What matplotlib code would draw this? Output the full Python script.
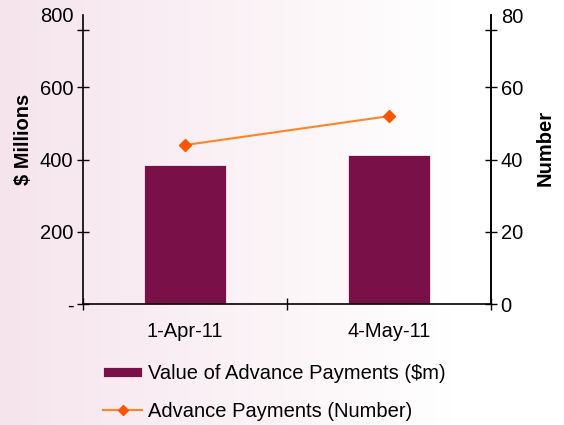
import numpy as np
import matplotlib
matplotlib.use('Agg')
import matplotlib.pyplot as plt
from matplotlib.lines import Line2D
from matplotlib.patches import Patch

# data
dates = ['1-Apr-11', '4-May-11']
value_m = [386, 413]          # Value of Advance Payments ($m)
number = [44, 52]             # Advance Payments (Number)

bar_color = '#7a1048'
line_color = '#ff8426'
marker_color = '#ff5500'

plt.rcParams['font.family'] = ['Liberation Sans', 'DejaVu Sans']
plt.rcParams['font.size'] = 14.5

fig = plt.figure(figsize=(5.64, 4.25), dpi=100)

# pink-to-white background gradient
bg = fig.add_axes([0, 0, 1, 1], zorder=-10)
grad = np.linspace(0, 1, 256)
left = np.array([246, 228, 236]) / 255.0
right = np.array([255, 255, 255]) / 255.0
t = np.clip(grad / 0.8, 0, 1)[:, None]
img = (left * (1 - t) + right * t)[None, :, :]
bg.imshow(img, aspect='auto', extent=[0, 1, 0, 1])
bg.axis('off')

ax = fig.add_axes([83 / 564, 1 - 304 / 425, (491 - 83) / 564, (304 - 15) / 425])
ax.set_facecolor('none')
x = np.arange(len(dates))
ax.bar(x, value_m, width=0.4, color=bar_color, edgecolor='white', linewidth=0.5, zorder=2)
ax.set_xlim(-0.5, 1.5)
ax.set_ylim(0, 800)
ax.set_yticks([0, 200, 400, 600, 800])
ax.set_yticklabels(['-', '200', '400', '600', '800'])
ax.set_xticks(x)
ax.set_xticklabels(dates)
ax.set_xticks([-0.5, 0.5, 1.5], minor=True)
ax.tick_params(axis='x', which='major', length=0, pad=13)
ax.tick_params(axis='x', which='minor', direction='inout', length=8, width=1)
ax.tick_params(axis='y', direction='inout', length=8, width=1, pad=3)
ax.spines['top'].set_visible(False)
for s in ['left', 'bottom', 'right']:
    ax.spines[s].set_linewidth(1.2)
ax.set_ylabel('$ Millions', fontweight='bold')
ax.yaxis.set_label_coords(-0.1225, 0.571)

ax2 = ax.twinx()
ax2.plot(x, number, color=line_color, linewidth=1.5, marker='D', markersize=6,
         markerfacecolor=marker_color, markeredgecolor=marker_color, zorder=3)
ax2.set_ylim(0, 80)
ax2.set_yticks([0, 20, 40, 60, 80])
ax2.tick_params(axis='y', direction='inout', length=8, width=1, pad=3)
for s in ['top', 'left', 'bottom']:
    ax2.spines[s].set_visible(False)
ax2.spines['right'].set_linewidth(1.2)
ax2.set_ylabel('Number', fontweight='bold')
ax2.yaxis.set_label_coords(1.11, 0.54)

# top tick on the reference sits a little below the 800/80 label
ax.yaxis.get_major_ticks()[-1].tick1line.set_visible(False)
ax2.yaxis.get_major_ticks()[-1].tick2line.set_visible(False)
ax.set_yticks([758], minor=True)
ax2.set_yticks([75.8], minor=True)
ax.tick_params(axis='y', which='minor', direction='inout', length=8, width=1)
ax2.tick_params(axis='y', which='minor', direction='inout', length=8, width=1)

handles = [Patch(facecolor=bar_color, edgecolor='white', linewidth=0.5),
           Line2D([0], [0], color=line_color, linewidth=1.5, marker='D', markersize=5,
                  markerfacecolor=marker_color, markeredgecolor=marker_color)]
labels = ['Value of Advance Payments ($m)', 'Advance Payments (Number)']
fig.legend(handles, labels, loc='upper left', bbox_to_anchor=(103 / 564, 1 - 364 / 425),
           frameon=False, borderpad=0, borderaxespad=0, handlelength=1.95, handleheight=0.4,
           handletextpad=0.3, labelspacing=0.92)

fig.savefig('out.png', dpi=100)
